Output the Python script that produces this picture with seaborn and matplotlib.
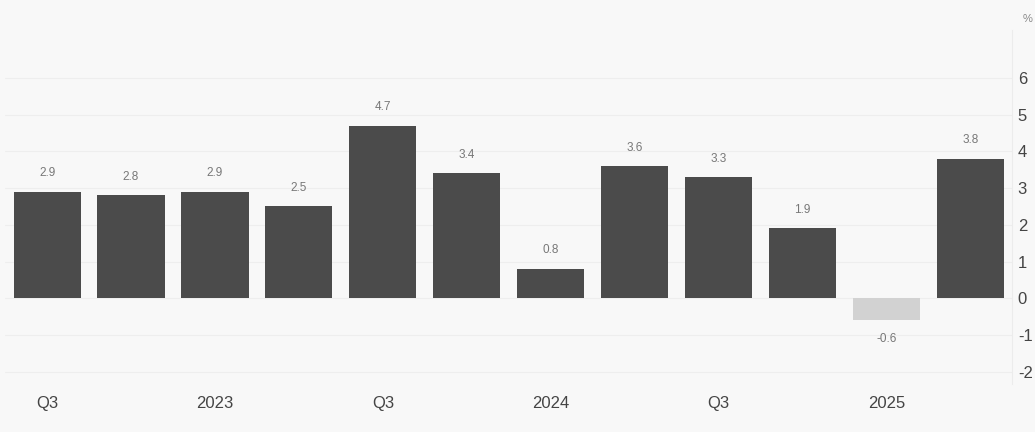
import matplotlib
matplotlib.use('Agg')
import matplotlib.pyplot as plt
import seaborn as sns
import pandas as pd

# quarterly values, Q3 2022 .. Q2 2025
quarters = ['Q3 22', 'Q4 22', 'Q1 23', 'Q2 23', 'Q3 23', 'Q4 23',
            'Q1 24', 'Q2 24', 'Q3 24', 'Q4 24', 'Q1 25', 'Q2 25']
values = [2.9, 2.8, 2.9, 2.5, 4.7, 3.4, 0.8, 3.6, 3.3, 1.9, -0.6, 3.8]
tick_text = ['Q3', '', '2023', '', 'Q3', '', '2024', '', 'Q3', '', '2025', '']
yticks = [-2, -1, 0, 1, 2, 3, 4, 5, 6]

sns.set_style('white')
plt.rcParams['font.family'] = ['Liberation Sans Narrow', 'Liberation Sans', 'DejaVu Sans']
plt.rcParams['axes.unicode_minus'] = False

df = pd.DataFrame({'q': quarters, 'v': values})
cols = ['#d2d2d2' if v < 0 else '#4b4b4b' for v in values]

fig = plt.figure(figsize=(10.35, 4.32), dpi=100, facecolor='#f8f8f8')
ax = fig.add_axes([0.005, 0.11, 0.973, 0.82])
ax.set_facecolor('#f8f8f8')

sns.barplot(data=df, x='q', y='v', hue='q', palette=cols, legend=False,
            width=0.8, saturation=1, linewidth=0, ax=ax)

for c in ax.containers:
    ax.bar_label(c, fmt='%.1f', padding=9, fontsize=8.5, color='#777777')

ax.set_ylim(-2.35, 7.3)
ax.set_xlim(-0.5, 11.5)
ax.set_yticks(yticks)
ax.yaxis.tick_right()
ax.tick_params(axis='y', length=0, labelsize=12, labelcolor='#444444', pad=4)
ax.set_xticks(range(len(quarters)))
ax.set_xticklabels(tick_text)
ax.tick_params(axis='x', length=0, labelsize=12, labelcolor='#444444', pad=8)
ax.grid(axis='y', color='#eeeeee', linewidth=0.8)
ax.set_axisbelow(True)
ax.set_xlabel('')
ax.set_ylabel('')
for s in ['top', 'left', 'bottom']:
    ax.spines[s].set_visible(False)
ax.spines['right'].set_color('#ececec')

fig.text(0.998, 0.955, '%', fontsize=8, color='#888888', ha='right', va='center')

fig.savefig('out.png', dpi=100, facecolor=fig.get_facecolor())
